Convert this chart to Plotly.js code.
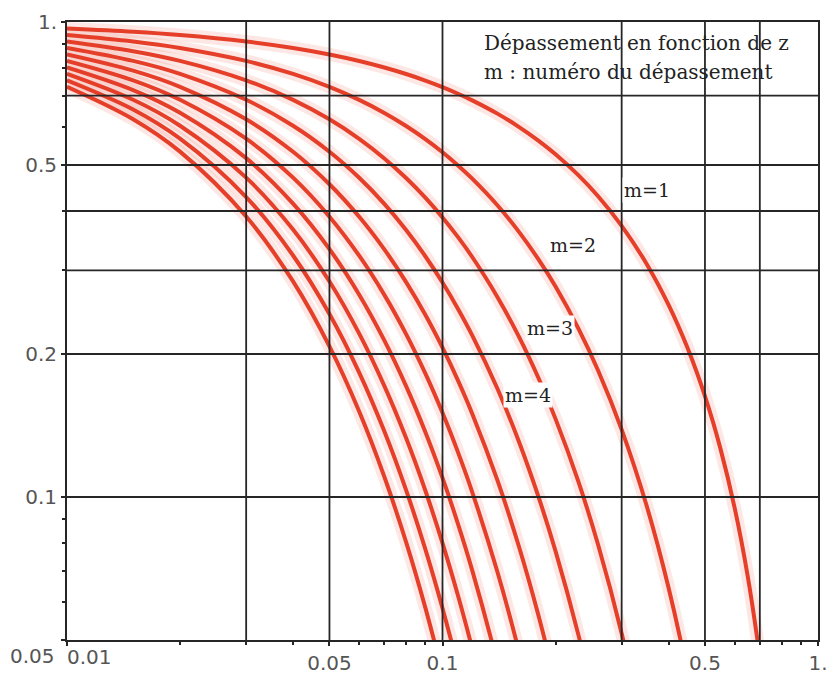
<!DOCTYPE html>
<html>
<head>
<meta charset="utf-8">
<script src="https://cdn.plot.ly/plotly-3.0.1.min.js"></script>
<style>html,body{margin:0;padding:0;background:#fff;}#chart{width:833px;height:676px;}</style>
</head>
<body>
<div id="chart"></div>
<script>
// damping ratio z (shared x values)
const zValues = [0.01, 0.015, 0.02, 0.03, 0.04, 0.05, 0.06, 0.07, 0.08, 0.09, 0.1, 0.11, 0.12, 0.14, 0.16, 0.18, 0.2, 0.23, 0.26, 0.3, 0.35, 0.4, 0.45, 0.5, 0.55, 0.6, 0.65, 0.7, 0.72];

// overshoot D for each overshoot number m
const overshootM1 = [0.96907, 0.95397, 0.93909, 0.91001, 0.88182, 0.85447, 0.82793, 0.80216, 0.77714, 0.75285, 0.72925, 0.70632, 0.68404, 0.64134, 0.60097, 0.56278, 0.52662, 0.47595, 0.42918, 0.37232, 0.30919, 0.25382, 0.20534, 0.16303, 0.12629, 0.09478, 0.06807, 0.04599, 0.03842];
const overshootM2 = [0.93910, 0.91006, 0.88189, 0.82812, 0.77761, 0.73012, 0.68547, 0.64346, 0.60395, 0.56678, 0.53180, 0.49889, 0.46791, 0.41132, 0.36116, 0.31672, 0.27733, 0.22653, 0.18420, 0.13862, 0.09560, 0.06442, 0.04217, 0.02658];
const overshootM3 = [0.91005, 0.86817, 0.82817, 0.75360, 0.68571, 0.62387, 0.56752, 0.51616, 0.46935, 0.42670, 0.38781, 0.35238, 0.32007, 0.26380, 0.21705, 0.17824, 0.14605, 0.10782, 0.07905, 0.05161, 0.02956];
const overshootM4 = [0.88191, 0.82821, 0.77773, 0.68578, 0.60468, 0.53308, 0.46987, 0.41404, 0.36476, 0.32124, 0.28281, 0.24889, 0.21894, 0.16918, 0.13044, 0.10031, 0.07691, 0.05132, 0.03393];
const overshootM5 = [0.85463, 0.79009, 0.73035, 0.62407, 0.53322, 0.45550, 0.38902, 0.33213, 0.28346, 0.24185, 0.20624, 0.17580, 0.14976, 0.10851, 0.07839, 0.05645, 0.04050];
const overshootM6 = [0.82819, 0.75372, 0.68587, 0.56791, 0.47020, 0.38921, 0.32208, 0.26642, 0.22029, 0.18207, 0.15040, 0.12417, 0.10244, 0.06959, 0.04711, 0.03177];
const overshootM7 = [0.80258, 0.71903, 0.64409, 0.51680, 0.41464, 0.33257, 0.26666, 0.21371, 0.17120, 0.13707, 0.10968, 0.08770, 0.07008, 0.04463, 0.02831];
const overshootM8 = [0.77777, 0.68593, 0.60486, 0.47030, 0.36564, 0.28417, 0.22078, 0.17143, 0.13305, 0.10320, 0.07998, 0.06195, 0.04793, 0.02862];
const overshootM9 = [0.75371, 0.65436, 0.56802, 0.42797, 0.32243, 0.24282, 0.18279, 0.13752, 0.10340, 0.07769, 0.05833, 0.04375, 0.03279];
const overshootM10 = [0.73039, 0.62424, 0.53341, 0.38946, 0.28432, 0.20748, 0.15134, 0.11031, 0.08035, 0.05849, 0.04253];

const allSeries = [overshootM1, overshootM2, overshootM3, overshootM4, overshootM5, overshootM6, overshootM7, overshootM8, overshootM9, overshootM10];

// axis ticks and grid
const xTickVals = [0.01, 0.05, 0.1, 0.5, 1];
const xTickText = ['', '0.05', '0.1', '0.5', '1.'];
const xMinorVals = [0.02, 0.03, 0.04, 0.06, 0.07, 0.08, 0.09, 0.2, 0.3, 0.4, 0.6, 0.7, 0.8, 0.9];
const yTickVals = [0.05, 0.1, 0.2, 0.5, 1];
const yTickText = ['', '0.1', '0.2', '0.5', '1.'];
const yMinorVals = [0.06, 0.07, 0.08, 0.09, 0.3, 0.4, 0.6, 0.7, 0.8, 0.9];
const gridX = [0.03, 0.05, 0.1, 0.3, 0.5, 0.7];
const gridY = [0.1, 0.2, 0.3, 0.4, 0.5, 0.7];

const curveColor = '#e53f2a';
const gridColor = '#262626';

const traces = [];
allSeries.forEach(ys => {
  traces.push({
    x: zValues.slice(0, ys.length), y: ys, type: 'scatter', mode: 'lines',
    line: {color: 'rgba(240,120,105,0.18)', width: 13, shape: 'spline'}, hoverinfo: 'skip'
  });
});
allSeries.forEach((ys, i) => {
  traces.push({
    x: zValues.slice(0, ys.length), y: ys, type: 'scatter', mode: 'lines', name: 'm=' + (i + 1),
    line: {color: curveColor, width: 4, shape: 'spline'}
  });
});

// grid lines drawn above the curves (as in the original)
const gxx = [], gxy = [];
gridX.forEach(v => { gxx.push(v, v, null); gxy.push(0.05, 1, null); });
traces.push({x: gxx, y: gxy, type: 'scatter', mode: 'lines', line: {color: gridColor, width: 1.8}, hoverinfo: 'skip'});
const gyx = [], gyy = [];
gridY.forEach(v => { gyx.push(0.01, 1, null); gyy.push(v, v, null); });
traces.push({x: gyx, y: gyy, type: 'scatter', mode: 'lines', line: {color: gridColor, width: 1.8}, hoverinfo: 'skip'});

const tickFont = {family: 'DejaVu Sans', size: 20, color: '#555'};
const serif = {family: 'DejaVu Serif', size: 20, color: '#222'};
const serifM = {family: 'DejaVu Serif', size: 19, color: '#222'};

const layout = {
  width: 833, height: 676,
  margin: {l: 67, r: 15, t: 22, b: 36},
  paper_bgcolor: '#fff', plot_bgcolor: '#fff',
  showlegend: false,
  xaxis: {
    type: 'log', range: [-2, 0],
    tickmode: 'array', tickvals: xTickVals, ticktext: xTickText,
    ticks: 'outside', ticklen: 4, tickwidth: 2, tickcolor: gridColor,
    minor: {tickmode: 'array', tickvals: xMinorVals, ticks: 'outside', ticklen: 3, tickwidth: 2, tickcolor: gridColor, showgrid: false},
    showgrid: false, zeroline: false,
    showline: true, linecolor: gridColor, linewidth: 2, mirror: true,
    tickfont: tickFont, ticklabelstandoff: 0
  },
  yaxis: {
    type: 'log', range: [Math.log10(0.05), 0],
    tickmode: 'array', tickvals: yTickVals, ticktext: yTickText,
    ticks: 'outside', ticklen: 4, tickwidth: 2, tickcolor: gridColor,
    minor: {tickmode: 'array', tickvals: yMinorVals, ticks: 'outside', ticklen: 3, tickwidth: 2, tickcolor: gridColor, showgrid: false},
    showgrid: false, zeroline: false,
    showline: true, linecolor: gridColor, linewidth: 2, mirror: true,
    tickfont: tickFont, ticklabelstandoff: 0
  },
  annotations: [
    {xref: 'paper', yref: 'paper', x: 0.553, y: 0.966, xanchor: 'left', yanchor: 'middle', showarrow: false, text: 'Dépassement en fonction de z', font: serif},
    {xref: 'paper', yref: 'paper', x: 0.553, y: 0.919, xanchor: 'left', yanchor: 'middle', showarrow: false, text: 'm : numéro du dépassement', font: serif},
    {xref: 'paper', yref: 'paper', x: 0.739, y: 0.728, xanchor: 'left', yanchor: 'middle', showarrow: false, text: 'm=1', font: serifM, bgcolor: '#fff', borderpad: 1},
    {xref: 'paper', yref: 'paper', x: 0.640, y: 0.639, xanchor: 'left', yanchor: 'middle', showarrow: false, text: 'm=2', font: serifM, bgcolor: '#fff', borderpad: 1},
    {xref: 'paper', yref: 'paper', x: 0.610, y: 0.505, xanchor: 'left', yanchor: 'middle', showarrow: false, text: 'm=3', font: serifM, bgcolor: '#fff', borderpad: 1},
    {xref: 'paper', yref: 'paper', x: 0.581, y: 0.396, xanchor: 'left', yanchor: 'middle', showarrow: false, text: 'm=4', font: serifM, bgcolor: '#fff', borderpad: 1},
    {xref: 'paper', yref: 'paper', x: -0.013, y: -0.026, xanchor: 'right', yanchor: 'middle', showarrow: false, text: '0.05', font: tickFont},
    {xref: 'paper', yref: 'paper', x: -0.003, y: -0.027, xanchor: 'left', yanchor: 'middle', showarrow: false, text: '0.01', font: tickFont}
  ]
};

Plotly.newPlot('chart', traces, layout, {staticPlot: true, displayModeBar: false});
</script>
</body>
</html>
